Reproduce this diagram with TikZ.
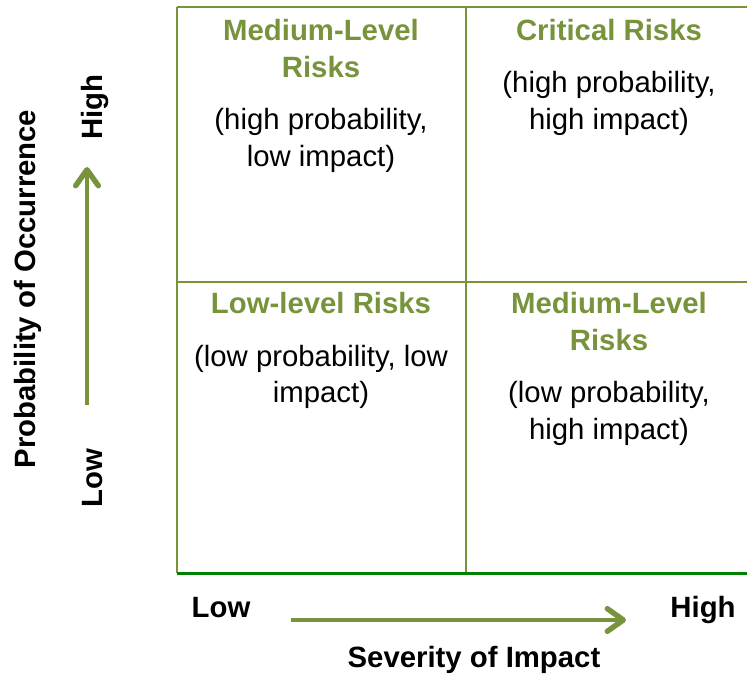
\documentclass[tikz,border=0pt]{standalone}
\usepackage{fontspec}
\setmainfont{Liberation Sans}
\usetikzlibrary{arrows.meta}
\definecolor{olive}{HTML}{77933C}
\definecolor{dkgreen}{HTML}{008000}
\begin{document}
\begin{tikzpicture}[x=0.75pt,y=-0.75pt,
  every node/.style={inner sep=0pt,outer sep=0pt,font=\fontsize{22}{27.75}\selectfont},
  grid/.style={draw=olive,line width=1.5pt},
  base/.style={draw=dkgreen,line width=2.25pt},
  ttl/.style={anchor=base,align=center,text=olive,font=\fontsize{22}{27.75}\selectfont\bfseries},
  body/.style={anchor=base,align=center,text=black},
  axl/.style={anchor=base,font=\fontsize{22}{27.75}\selectfont\bfseries},
  axarrow/.style={draw=olive,line width=3pt,-{Straight Barb[length=12pt,width=17pt,line width=0pt 1.35,line cap=round,line join=round]}}]
\useasboundingbox (0,0) rectangle (747,677);
% grid
\coordinate (tl) at (177,7);
\coordinate (tr) at (760,7);
\coordinate (bl) at (177,573);
\coordinate (br) at (760,573);
\coordinate (mt) at (466,7);
\coordinate (mb) at (466,573);
\coordinate (ml) at (177,282);
\coordinate (mr) at (760,282);
\begin{scope}
\clip (0,0) rectangle (747,677);
\draw[grid] (tl) -- (tr);
\draw[grid] (tl) -- (bl);
\draw[grid] (mt) -- (mb);
\draw[grid] (ml) -- (mr);
\draw[base] (bl) -- (br);
\end{scope}
% quadrant texts (anchor base = baseline of last line)
\node[ttl] (q1t) at (321,78) {Medium-Level\\Risks};
\node[body] (q1b) at (321,167) {(high probability,\\low impact)};
\node[ttl] (q2t) at (609,41) {Critical Risks};
\node[body] (q2b) at (609,130) {(high probability,\\high impact)};
\node[ttl] (q3t) at (321,314) {Low-level Risks};
\node[body] (q3b) at (321,403) {(low probability, low\\impact)};
\node[ttl] (q4t) at (609,351) {Medium-Level\\Risks};
\node[body] (q4b) at (609,440) {(low probability,\\high impact)};
% axes
\coordinate (va) at (87,405);
\coordinate (vb) at (87,167);
\draw[axarrow] (va) -- (vb);
\coordinate (ha) at (291,620);
\coordinate (hb) at (626,620);
\draw[axarrow] (ha) -- (hb);
\node[axl,rotate=90] (vhigh) at (102,107) {High};
\node[axl,rotate=90] (vlow) at (102,478) {Low};
\node[axl,rotate=90] (vlab) at (36,289) {Probability of Occurrence};
\node[axl] (hlow) at (221,617) {Low};
\node[axl] (hhigh) at (703,617) {High};
\node[axl] (hlab) at (474,667) {Severity of Impact};
\end{tikzpicture}
\end{document}
